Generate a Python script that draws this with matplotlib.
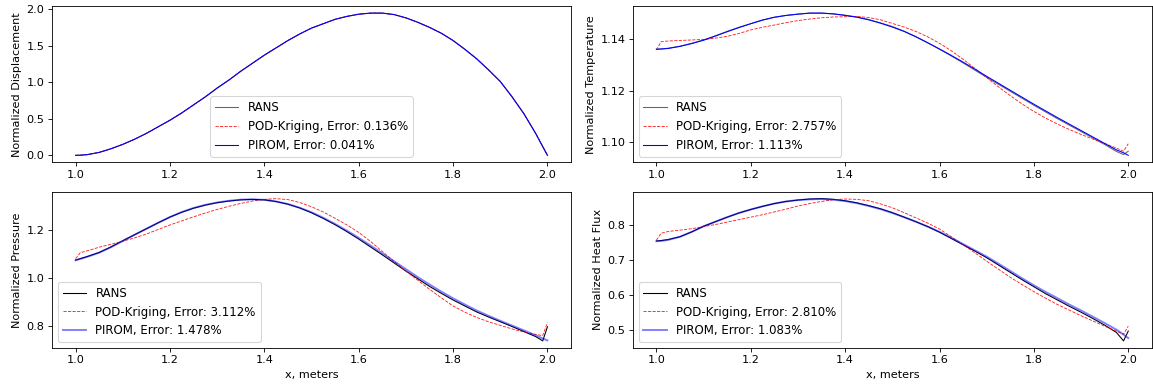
import numpy as np
import matplotlib
matplotlib.use("Agg")
import matplotlib.pyplot as plt
from matplotlib.ticker import MultipleLocator

plt.rcParams["font.size"] = 10.5

# x stations along the surface (meters)
x = [1.000, 1.010, 1.025, 1.050, 1.075, 1.100, 1.125, 1.150, 1.175, 1.200,
     1.225, 1.250, 1.275, 1.300, 1.325, 1.350, 1.375, 1.400, 1.425, 1.450,
     1.475, 1.500, 1.525, 1.550, 1.575, 1.600, 1.625, 1.650, 1.675, 1.700,
     1.725, 1.750, 1.775, 1.800, 1.825, 1.850, 1.875, 1.900, 1.925, 1.950,
     1.975, 1.990, 2.000]

# displacement (all three models agree to the eye)
disp_rans = [0.00, 0.002, 0.01, 0.04, 0.09, 0.15, 0.22, 0.30, 0.39, 0.48,
             0.58, 0.69, 0.80, 0.92, 1.03, 1.15, 1.26, 1.37, 1.47, 1.57,
             1.66, 1.74, 1.80, 1.86, 1.90, 1.93, 1.945, 1.945, 1.925, 1.88,
             1.82, 1.75, 1.67, 1.57, 1.45, 1.32, 1.17, 1.01, 0.80, 0.57,
             0.30, 0.12, 0.00]
disp_pod = disp_rans
disp_pirom = disp_rans

temp_rans = [1.1361, 1.1362, 1.1365, 1.1373, 1.1384, 1.1397, 1.1413, 1.1430, 1.1446, 1.1460,
             1.1474, 1.1485, 1.1492, 1.1497, 1.1501, 1.1501, 1.1498, 1.1493, 1.1486, 1.1476,
             1.1463, 1.1449, 1.1431, 1.1410, 1.1386, 1.1361, 1.1335, 1.1308, 1.1280, 1.1252,
             1.1225, 1.1198, 1.1171, 1.1144, 1.1118, 1.1092, 1.1067, 1.1042, 1.1017, 1.0992,
             1.0965, 1.0953, 1.0966]
temp_pod = [1.1358, 1.1390, 1.1393, 1.1395, 1.1397, 1.1399, 1.1404, 1.1411, 1.1422, 1.1436,
            1.1446, 1.1455, 1.1464, 1.1472, 1.1478, 1.1483, 1.1486, 1.1487, 1.1488, 1.1484,
            1.1475, 1.1461, 1.1447, 1.1430, 1.1409, 1.1384, 1.1355, 1.1322, 1.1287, 1.1251,
            1.1215, 1.1181, 1.1149, 1.1120, 1.1094, 1.1071, 1.1050, 1.1031, 1.1013, 1.0996,
            1.0978, 1.0966, 1.0995]
temp_pirom = [1.1361, 1.1362, 1.1364, 1.1372, 1.1383, 1.1396, 1.1412, 1.1429, 1.1445, 1.1460,
              1.1474, 1.1485, 1.1492, 1.1497, 1.1501, 1.1501, 1.1498, 1.1492, 1.1485, 1.1475,
              1.1462, 1.1447, 1.1430, 1.1409, 1.1386, 1.1362, 1.1337, 1.1311, 1.1284, 1.1256,
              1.1229, 1.1202, 1.1175, 1.1148, 1.1122, 1.1096, 1.1071, 1.1046, 1.1021, 1.0996,
              1.0971, 1.0960, 1.0950]

pres_rans = [1.074, 1.080, 1.089, 1.106, 1.129, 1.155, 1.180, 1.205, 1.230, 1.254,
             1.274, 1.291, 1.304, 1.314, 1.321, 1.326, 1.328, 1.326, 1.319, 1.308,
             1.292, 1.272, 1.248, 1.222, 1.193, 1.162, 1.129, 1.096, 1.062, 1.028,
             0.996, 0.964, 0.935, 0.907, 0.882, 0.857, 0.836, 0.816, 0.796, 0.775,
             0.754, 0.736, 0.795]
pres_pod = [1.080, 1.105, 1.113, 1.128, 1.140, 1.153, 1.167, 1.183, 1.202, 1.221,
            1.238, 1.255, 1.271, 1.286, 1.299, 1.311, 1.321, 1.328, 1.331, 1.327,
            1.315, 1.297, 1.275, 1.249, 1.221, 1.190, 1.152, 1.110, 1.068, 1.028,
            0.990, 0.952, 0.916, 0.882, 0.856, 0.834, 0.816, 0.801, 0.786, 0.773,
            0.763, 0.758, 0.812]
pres_pirom = [1.073, 1.079, 1.088, 1.105, 1.128, 1.154, 1.180, 1.205, 1.230, 1.254,
              1.275, 1.292, 1.305, 1.315, 1.322, 1.327, 1.328, 1.326, 1.319, 1.308,
              1.293, 1.274, 1.251, 1.225, 1.197, 1.167, 1.135, 1.102, 1.069, 1.036,
              1.003, 0.972, 0.942, 0.914, 0.888, 0.863, 0.841, 0.820, 0.800, 0.780,
              0.759, 0.746, 0.738]

flux_rans = [0.754, 0.755, 0.758, 0.766, 0.780, 0.796, 0.809, 0.822, 0.834, 0.844,
             0.853, 0.861, 0.867, 0.871, 0.874, 0.875, 0.873, 0.869, 0.863, 0.855,
             0.846, 0.835, 0.822, 0.809, 0.795, 0.779, 0.761, 0.743, 0.725, 0.706,
             0.685, 0.664, 0.643, 0.623, 0.603, 0.585, 0.567, 0.550, 0.532, 0.513,
             0.492, 0.468, 0.496]
flux_pod = [0.756, 0.776, 0.781, 0.785, 0.789, 0.795, 0.801, 0.808, 0.815, 0.822,
            0.829, 0.837, 0.845, 0.854, 0.861, 0.867, 0.872, 0.874, 0.873, 0.869,
            0.860, 0.849, 0.835, 0.820, 0.805, 0.788, 0.766, 0.743, 0.720, 0.696,
            0.673, 0.650, 0.629, 0.609, 0.590, 0.572, 0.556, 0.540, 0.525, 0.510,
            0.496, 0.487, 0.510]
flux_pirom = [0.753, 0.754, 0.757, 0.766, 0.780, 0.796, 0.809, 0.822, 0.834, 0.844,
              0.853, 0.861, 0.867, 0.871, 0.873, 0.874, 0.872, 0.868, 0.862, 0.854,
              0.845, 0.834, 0.822, 0.809, 0.795, 0.780, 0.763, 0.745, 0.727, 0.709,
              0.689, 0.668, 0.647, 0.627, 0.608, 0.590, 0.572, 0.555, 0.537, 0.519,
              0.500, 0.486, 0.476]

ylabels = ["Normalized Displacement", "Normalized Temperature",
           "Normalized Pressure", "Normalized Heat Flux"]
ytick_steps = [0.5, 0.02, 0.2, 0.1]
pod_err = [0.136, 2.757, 3.112, 2.810]
pirom_err = [0.041, 1.113, 1.478, 1.083]

panels = [(disp_rans, disp_pod, disp_pirom),
          (temp_rans, temp_pod, temp_pirom),
          (pres_rans, pres_pod, pres_pirom),
          (flux_rans, flux_pod, flux_pirom)]

fig, axes = plt.subplots(2, 2, figsize=(15, 5.0347), dpi=76.8667)
plt.subplots_adjust(left=0.0451, right=0.999, top=0.9845, bottom=0.1008,
                    wspace=0.119, hspace=0.186)

for i, ax in enumerate(axes.flat):
    rans, pod, pirom = panels[i]
    top = i < 2
    ax.plot(x, rans, color="k", lw=1, alpha=0.6 if top else 1.0, label="RANS")
    ax.plot(x, pod, "r--", lw=0.8, alpha=0.9,
            label=f"POD-Kriging, Error: {pod_err[i]:.3f}%")
    if top:
        ax.plot(x, pirom, color="b", lw=1,
                label=f"PIROM, Error: {pirom_err[i]:.3f}%")
    else:
        ax.plot(x, pirom, color="b", lw=1.8, alpha=0.5,
                label=f"PIROM, Error: {pirom_err[i]:.3f}%")
    ax.xaxis.set_major_locator(MultipleLocator(0.2))
    ax.yaxis.set_major_locator(MultipleLocator(ytick_steps[i]))
    ax.set_ylabel(ylabels[i])
    if not top:
        ax.set_xlabel("x, meters")
    ax.legend(loc="lower center" if i == 0 else "lower left", fontsize=11)

fig.savefig("out.png")
